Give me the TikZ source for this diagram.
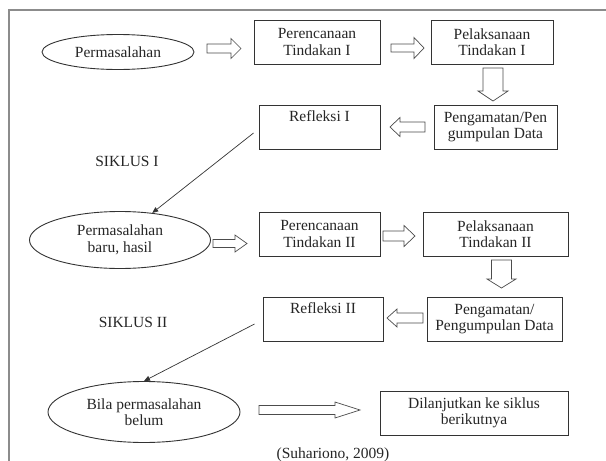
\documentclass[tikz,border=0pt]{standalone}
\usepackage{fontspec}
\setmainfont{Liberation Serif}
\usetikzlibrary{shapes.geometric,arrows.meta}

\tikzset{
  pics/blockarr/.style n args={4}{code={
    \draw[draw=black!70, fill=white, line width=0.7pt, line join=miter]
      (0,-#2) -- ({#1-#4},-#2) -- ({#1-#4},-#3) -- (#1,0) -- ({#1-#4},#3) -- ({#1-#4},#2) -- (0,#2) -- cycle;
  }}
}

\begin{document}
\begin{tikzpicture}[x=1pt, y=-1pt,
  every node/.style={font=\fontsize{15.5}{16.5}\selectfont, text=black!85},
  stagebox/.style={draw=black!80, line width=0.9pt, align=center, minimum height=44pt, inner sep=2pt},
  issue/.style={ellipse, draw=black!80, line width=0.9pt, align=center, inner sep=0pt},
  link/.style={draw=black!80, line width=0.7pt, -{Triangle[length=6pt,width=5pt]}}]
  \clip (0,0) rectangle (606,461);
  \draw[black!45, line width=1.5pt] (9,480) -- (9,10) -- (620,10);

  % siklus I
  \node[issue, minimum width=152pt, minimum height=35pt] (masalah1) at (118,52) {Permasalahan};
  \pic (a1) at (207,48.5) {blockarr={34}{4.5}{10}{10}};
  \node[stagebox, minimum width=126pt] (rencana1) at (317,42) {Perencanaan\\Tindakan I};
  \pic (a2) at (391,48) {blockarr={33}{4}{10.5}{10}};
  \node[stagebox, minimum width=122pt] (laksana1) at (492,42) {Pelaksanaan\\Tindakan I};
  \pic[rotate=-90] (a3) at (493,68) {blockarr={33}{10}{15}{10}};
  \node[stagebox, minimum width=123pt] (amati1) at (495.5,127) {Pengamatan/Pen\\gumpulan Data};
  \pic[rotate=180] (a4) at (425,127) {blockarr={35}{5}{9.5}{10}};
  \node[stagebox, minimum width=121pt] (refleksi1) at (319.5,127) {Refleksi I\\\strut};
  \node (siklus1) at (127,161) {SIKLUS I};

  % siklus II
  \node[issue, minimum width=181pt, minimum height=57pt] (masalah2) at (120,240) {Permasalahan\\baru, hasil};
  \pic (a5) at (213,243.5) {blockarr={34}{4}{8.5}{12}};
  \node[stagebox, minimum width=121pt] (rencana2) at (319.5,234) {Perencanaan\\Tindakan II};
  \pic (a6) at (383,236) {blockarr={32}{5}{10.5}{11}};
  \node[stagebox, minimum width=145pt] (laksana2) at (495.5,234) {Pelaksanaan\\Tindakan II};
  \pic[rotate=-90] (a7) at (501.5,260) {blockarr={28}{10}{14.5}{9}};
  \node[stagebox, minimum width=135pt] (amati2) at (494.5,319) {Pengamatan/\\Pengumpulan Data};
  \pic[rotate=180] (a8) at (423,318) {blockarr={36}{5}{9}{10}};
  \node[stagebox, minimum width=120pt] (refleksi2) at (323,319) {Refleksi II\\\strut};
  \node (siklus2) at (133,322) {SIKLUS II};

  % lanjut
  \node[issue, minimum width=192pt, minimum height=61pt] (masalah3) at (144,412) {Bila permasalahan\\belum};
  \pic (a9) at (259,410) {blockarr={101}{4.5}{8}{25}};
  \node[stagebox, minimum width=188pt] (lanjut) at (474,413) {Dilanjutkan ke siklus\\berikutnya};
  \node[anchor=base] (sumber) at (333,458) {(Suhariono, 2009)};

  \draw[link] ([xshift=-5pt,yshift=-6pt]refleksi1.west) -- (masalah2.40);
  \draw[link] ([xshift=-8pt,yshift=-5pt]refleksi2.west) -- (masalah3.north);
\end{tikzpicture}
\end{document}
